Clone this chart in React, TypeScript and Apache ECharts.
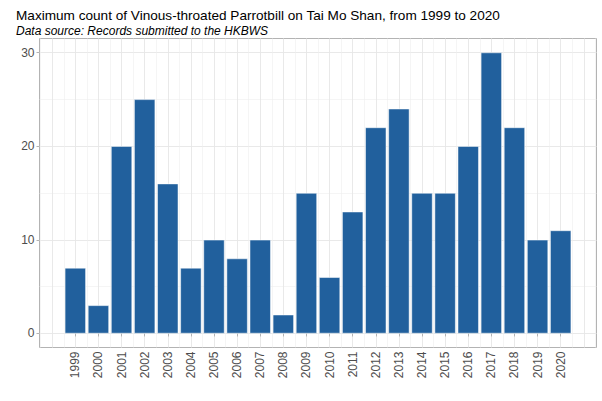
import React, { useEffect, useRef } from "react";
import * as echarts from "echarts";

const years: number[] = [1999, 2000, 2001, 2002, 2003, 2004, 2005, 2006, 2007, 2008, 2009, 2010, 2011, 2012, 2013, 2014, 2015, 2016, 2017, 2018, 2019, 2020];
const counts: number[] = [7, 3, 20, 25, 16, 7, 10, 8, 10, 2, 15, 6, 13, 22, 24, 15, 15, 20, 30, 22, 10, 11];
const yTicks: number[] = [0, 10, 20, 30];
const yMinor: number[] = [5, 15, 25];
const xMajorGrid: number[] = [1998, 1999, 2000, 2001, 2002, 2003, 2004, 2005, 2006, 2007, 2008, 2009, 2010, 2011, 2012, 2013, 2014, 2015, 2016, 2017, 2018, 2019, 2020, 2021];
const xMinorGrid: number[] = xMajorGrid.map((v) => v - 0.5).concat([2021.5]);

const titleText = "Maximum count of Vinous-throated Parrotbill on Tai Mo Shan, from 1999 to 2020";
const subtitleText = "Data source: Records submitted to the HKBWS";

const FONT = "Liberation Sans, Arial, sans-serif";
const X_MIN = 1997.45;
const X_MAX = 2021.55;
const Y_MIN = -1.5;
const Y_MAX = 31.5;

export default function App() {
  const ref = useRef<HTMLDivElement>(null);
  useEffect(() => {
    document.body.style.margin = "0";
    if (!ref.current) return;
    const chart = echarts.init(ref.current, undefined, { renderer: "svg" });
    const hiddenAxisBase = {
      axisLine: { show: false },
      axisLabel: { show: false },
    };
    chart.setOption({
      animation: false,
      backgroundColor: "#ffffff",
      title: [
        {
          text: titleText,
          left: 11,
          top: 3,
          textStyle: { fontFamily: FONT, fontSize: 13.6, fontWeight: "normal", color: "#000000" },
        },
        {
          text: subtitleText,
          left: 11,
          top: 20,
          textStyle: { fontFamily: FONT, fontSize: 12, fontStyle: "italic", fontWeight: "normal", color: "#000000" },
        },
      ],
      grid: {
        left: 39.5,
        right: 5.5,
        top: 38.5,
        bottom: 53.5,
        show: true,
        borderColor: "#B3B3B3",
        borderWidth: 1,
        backgroundColor: "transparent",
        containLabel: false,
      },
      xAxis: [
        {
          type: "value",
          min: X_MIN,
          max: X_MAX,
          position: "bottom",
          axisLine: { show: false },
          axisTick: { show: true, customValues: years, length: 3, lineStyle: { color: "#B3B3B3", width: 1 } },
          axisLabel: {
            customValues: years,
            rotate: 90,
            margin: 4,
            fontSize: 12,
            color: "#4D4D4D",
            fontFamily: FONT,
            formatter: (v: number) => String(Math.round(v)),
          },
          splitLine: { show: false },
        },
        {
          type: "value",
          min: X_MIN,
          max: X_MAX,
          position: "bottom",
          ...hiddenAxisBase,
          axisTick: { show: false, customValues: xMinorGrid },
          splitLine: { show: true, lineStyle: { color: "#EFEFEF", width: 0.6 } },
        },
        {
          type: "value",
          min: X_MIN,
          max: X_MAX,
          position: "bottom",
          ...hiddenAxisBase,
          axisTick: { show: false, customValues: xMajorGrid },
          splitLine: { show: true, lineStyle: { color: "#E6E6E6", width: 0.9 } },
        },
      ],
      yAxis: [
        {
          type: "value",
          min: Y_MIN,
          max: Y_MAX,
          axisLine: { show: false },
          axisTick: { show: true, customValues: yTicks, length: 3, lineStyle: { color: "#B3B3B3", width: 1 } },
          axisLabel: {
            customValues: yTicks,
            margin: 5,
            fontSize: 12,
            color: "#4D4D4D",
            fontFamily: FONT,
          },
          splitLine: { show: false },
        },
        {
          type: "value",
          min: Y_MIN,
          max: Y_MAX,
          ...hiddenAxisBase,
          axisTick: { show: false, customValues: yMinor },
          splitLine: { show: true, lineStyle: { color: "#EFEFEF", width: 0.6 } },
        },
        {
          type: "value",
          min: Y_MIN,
          max: Y_MAX,
          ...hiddenAxisBase,
          axisTick: { show: false, customValues: yTicks },
          splitLine: { show: true, lineStyle: { color: "#E6E6E6", width: 0.9 } },
        },
      ],
      series: [
        {
          type: "bar",
          xAxisIndex: 0,
          yAxisIndex: 0,
          data: years.map((y, i) => [y, counts[i]]),
          barWidth: 21,
          itemStyle: { color: "#21609D", borderColor: "#FFFFFF", borderWidth: 0.5 },
          z: 5,
        },
      ],
    });
    return () => chart.dispose();
  }, []);
  return <div ref={ref} style={{ position: "absolute", left: 0, top: 0, width: 602, height: 401 }} />;
}
